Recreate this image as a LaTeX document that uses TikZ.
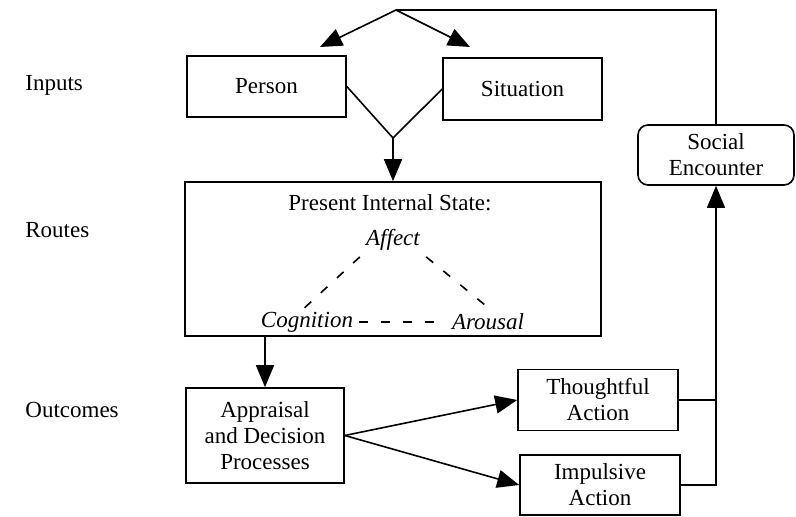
\documentclass[tikz,border=0pt]{standalone}
\usepackage{fontspec}
\setmainfont{Liberation Serif}
\usetikzlibrary{arrows.meta, positioning, calc}

\begin{document}
\begin{tikzpicture}[
    x=0.5pt, y=-0.5pt,
    txt/.style={font=\fontsize{11.5}{13}\selectfont, align=center, inner sep=2pt},
    box/.style={txt, rectangle, draw, line width=0.8pt},
    rbox/.style={box, rounded corners=5pt},
    rowlbl/.style={txt, anchor=west, inner sep=0pt},
    corner/.style={txt, font=\fontsize{11.5}{13}\selectfont\itshape, inner sep=3pt},
    fl/.style={-{Triangle[length=11pt,width=9pt]}, line width=0.8pt},
    ln/.style={line width=0.8pt},
    dl/.style={line width=0.8pt, dash pattern=on 4.5pt off 6.5pt}
]
\useasboundingbox (0,0) rectangle (796,517);

% Row labels
\node[rowlbl] (inputs)   at (25, 85) {Inputs};
\node[rowlbl] (routes)   at (25,230) {Routes};
\node[rowlbl] (outcomes) at (25,410) {Outcomes};

% Inputs
\node[box, minimum width=79.5pt, minimum height=30.5pt] (person)    at (266.5,86.5) {Person};
\node[box, minimum width=79.5pt, minimum height=31pt]   (situation) at (522.5,89)   {Situation};

% Routes
\node[box, minimum width=208pt, minimum height=77pt] (state) at (393,259) {};
\node[txt]    (title)     at (390,203) {Present Internal State:};
\node[corner] (affect)    at (393,240) {Affect};
\node[corner] (cognition) at (307,322) {Cognition};
\node[corner] (arousal)   at (488,322) {Arousal};

% Outcomes
\node[box, minimum width=79pt, minimum height=47.5pt] (appraisal)  at (265,435.5) {Appraisal\\and Decision\\Processes};
\node[box, minimum width=80pt, minimum height=30.5pt] (thoughtful) at (598,400)   {Thoughtful\\Action};
\node[box, minimum width=80pt, minimum height=30pt]   (impulsive)  at (600,485)   {Impulsive\\Action};
\node[rbox, minimum width=78pt, minimum height=30pt]  (social)     at (716,155)   {Social\\Encounter};

% Helper points
\coordinate (apex) at (396,10);
\coordinate (pin)  at (320,47);
\coordinate (sin)  at (470,47);
\coordinate (join) at (393,138);

% Social encounter -> inputs
\draw[ln] (social.north) -- (social.north |- apex) -- (apex);
\draw[fl] (apex) -- (pin);
\draw[fl] (apex) -- (sin);

% Inputs -> state
\draw[ln] (person.east) -- (join) -- (situation.west);
\draw[fl] (join) -- (state.north);

% Triangle inside state
\draw[dl, shorten >=-3pt] (affect.south west) -- (cognition.north);
\draw[dl, shorten >=-3pt] (affect.south east) -- (arousal.north);
\draw[dl] (cognition) -- (arousal);

% State -> appraisal -> actions
\draw[fl] (state.south -| appraisal.north) -- (appraisal.north);
\draw[fl] (appraisal.east) -- (thoughtful.west);
\draw[fl] (appraisal.east) -- (impulsive.west);

% Actions -> social encounter
\draw[ln] (thoughtful.east) -- (thoughtful.east -| social.south);
\draw[fl] (impulsive.east) -- (impulsive.east -| social.south) -- (social.south);

\end{tikzpicture}
\end{document}
